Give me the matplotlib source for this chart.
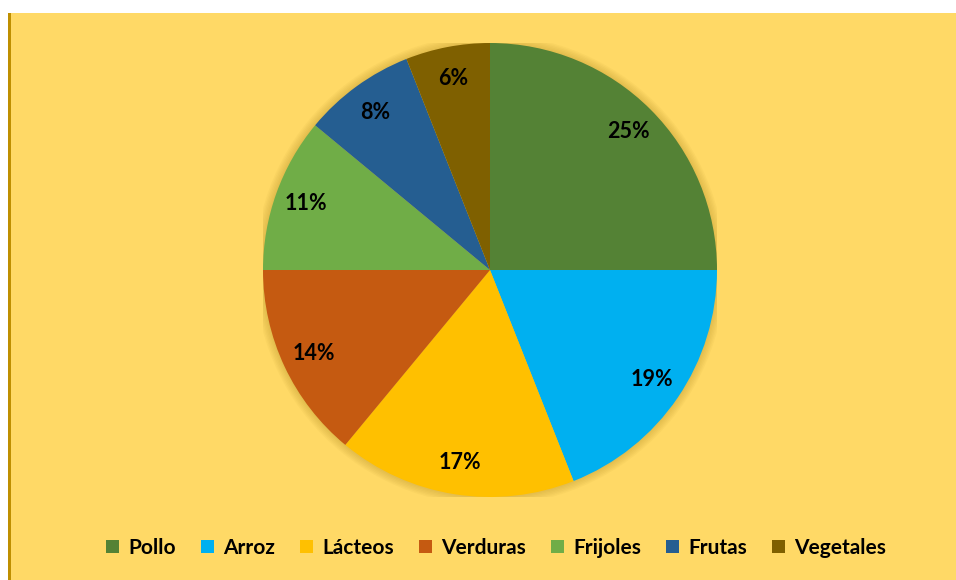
import matplotlib.pyplot as plt
from matplotlib.patches import Rectangle, Circle

categories = ['Pollo', 'Arroz', 'Lácteos', 'Verduras', 'Frijoles', 'Frutas', 'Vegetales']
values = [25, 19, 17, 14, 11, 8, 6]
colors = ['#548235', '#00B0F0', '#FFC000', '#C55A11', '#70AD47', '#255E91', '#7F6000']

plt.rcParams['font.family'] = ['Lato', 'DejaVu Sans']

W, H = 956, 580
fig = plt.figure(figsize=(W / 100, H / 100), dpi=100)
fig.patch.set_facecolor('white')

# chart area background with dark gold left edge
fig.patches.append(Rectangle((8 / W, 0), 1 - 8 / W, 1 - 13 / H, transform=fig.transFigure,
                             facecolor='#FFD966', edgecolor='none', zorder=-2))
fig.patches.append(Rectangle((8 / W, 0), 3 / W, 1 - 13 / H, transform=fig.transFigure,
                             facecolor='#BF8F00', edgecolor='none', zorder=-1))

# pie centered at (490, 270) px, radius ~227 px
r = 227
ax = fig.add_axes([(490 - r) / W, (H - 270 - r) / H, 2 * r / W, 2 * r / H])

# soft shadow
for i in range(6):
    ax.add_patch(Circle((0, 0), 1 + 0.006 * (i + 1), facecolor='#B08A20',
                        alpha=0.06, edgecolor='none', zorder=0))

wedges, texts, autotexts = ax.pie(values, colors=colors, startangle=90, counterclock=False,
                                  radius=1, autopct='%1.0f%%', pctdistance=0.86,
                                  wedgeprops=dict(linewidth=0),
                                  textprops=dict(fontsize=15.5, fontweight='bold', color='black'))
for w in wedges:
    w.set_zorder(2)
for t in autotexts:
    t.set_zorder(3)

ax.set_xlim(-1, 1)
ax.set_ylim(-1, 1)
ax.set_aspect('equal')
ax.axis('off')

leg = fig.legend(wedges, categories, loc='center', bbox_to_anchor=(496 / W, 1 - 548 / H),
                 ncol=7, frameon=False, fontsize=15, handlelength=0.62, handleheight=0.62,
                 handletextpad=0.45, columnspacing=1.2)
for t in leg.get_texts():
    t.set_fontweight('bold')

fig.savefig('out.png', dpi=100, facecolor=fig.get_facecolor())
